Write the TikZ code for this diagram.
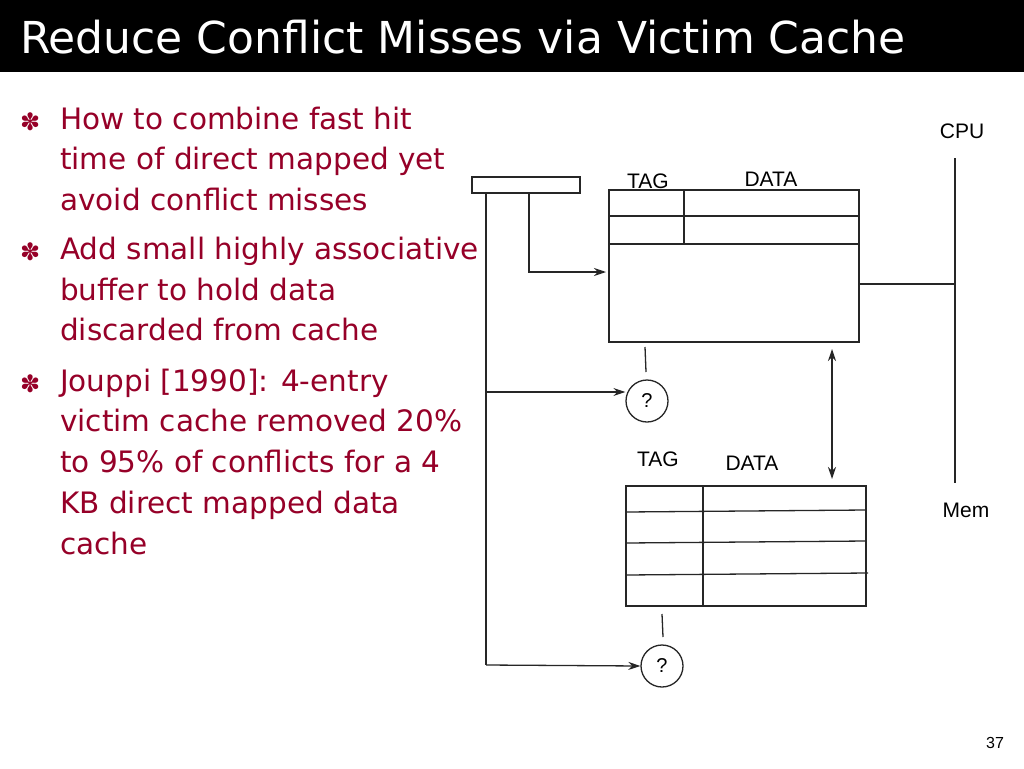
\documentclass[tikz,border=0pt]{standalone}
\usepackage{fontspec}
\setmainfont{DejaVu Sans}
\newfontfamily\titlefont{DejaVu Sans}
\newfontfamily\lab{Liberation Sans}
\usetikzlibrary{arrows.meta}
\definecolor{bul}{RGB}{150,0,40}
\begin{document}
\begin{tikzpicture}[x=1pt,y=-1pt,
  ln/.style={draw=black!85,line width=1.3pt},
  arr/.style={ln,-{Stealth[length=12pt,width=8pt]}},
  lbl/.style={font=\lab\fontsize{21}{21}\selectfont},
  bt/.style={anchor=base west,text=bul,font=\titlefont\fontsize{29.5}{29.5}\selectfont,inner sep=0},
  bs/.style={anchor=base west,text=bul,font=\fontsize{24}{24}\selectfont,inner sep=0},
  q/.style={circle,draw=black!85,line width=1.3pt,minimum size=42pt,inner sep=0,font=\lab\fontsize{20}{20}\selectfont}]
\useasboundingbox (0,0) rectangle (1024,768);
\fill[white] (0,0) rectangle (1024,768);
\fill[black] (0,0) rectangle (1024,72);
\node[anchor=base west,text=white,font=\titlefont\fontsize{44}{44}\selectfont,inner sep=0] (title) at (20,54) {Reduce Conflict Misses via Victim Cache};
% bullets
\node[bs] (s1) at (20,130) {✽};
\node[bs] (s2) at (20,260) {✽};
\node[bs] (s3) at (20,392) {✽};
\node[bt] (t1) at (60,129) {How to combine fast hit};
\node[bt] (t2) at (60,169) {time of direct mapped yet};
\node[bt] (t3) at (60,210) {avoid conflict misses};
\node[bt] (t4) at (60,259) {Add small highly associative};
\node[bt] (t5) at (60,300) {buffer to hold data};
\node[bt] (t6) at (60,340) {discarded from cache};
\node[bt] (t7) at (60,391) {Jouppi [1990]: 4-entry};
\node[bt] (t8) at (60,431) {victim cache removed 20\%};
\node[bt] (t9) at (60,472) {to 95\% of conflicts for a 4};
\node[bt] (t10) at (60,513) {KB direct mapped data};
\node[bt] (t11) at (60,554) {cache};
% register
\draw[ln] (472,177) rectangle (580,193);
\coordinate (r1) at (486,193);
\coordinate (r2) at (529,193);
% main cache
\draw[ln] (609,190) rectangle (859,342);
\draw[ln] (609,216) -- (859,216);
\draw[ln] (609,244) -- (859,244);
\draw[ln] (684,190) -- (684,244);
\node[lbl] (tag1) at (648,181) {TAG};
\node[lbl] (data1) at (771,179) {DATA};
\coordinate (mcl) at (606,272);
% victim cache
\draw[ln] (626,486) rectangle (866,606);
\draw[ln] (626,512) -- (866,510);
\draw[ln] (626,543) -- (866,541);
\draw[ln] (626,575) -- (868,573);
\draw[ln] (703,486) -- (703,606);
\node[lbl] (tag2) at (658,459) {TAG};
\node[lbl] (data2) at (752,463) {DATA};
% circles
\node[q] (c1) at (647,401) {?};
\node[q] (c2) at (662,666) {?};
\draw[ln] (645,347) -- (646,372);
\draw[ln] (662,614) -- (663,637);
% connectors
\draw[ln] (r1) -- (486,665);
\draw[arr] (486,665) -- (c2.west);
\draw[arr] (486,392) -- (c1.west |- 0,392);
\draw[arr] (r2) -- (529,272) -- (mcl);
\draw[ln,{Stealth[length=12pt,width=8pt]}-{Stealth[length=12pt,width=8pt]}] (832,349) -- (832,479);
% CPU / Mem
\node[lbl] (cpu) at (962,131) {CPU};
\node[lbl] (mem) at (966,510) {Mem};
\draw[ln] (955,158) -- (955,483);
\draw[ln] (859,284) -- (955,284);
\node[font=\lab\fontsize{16}{16}\selectfont] (pg) at (995,743) {37};
\end{tikzpicture}
\end{document}
